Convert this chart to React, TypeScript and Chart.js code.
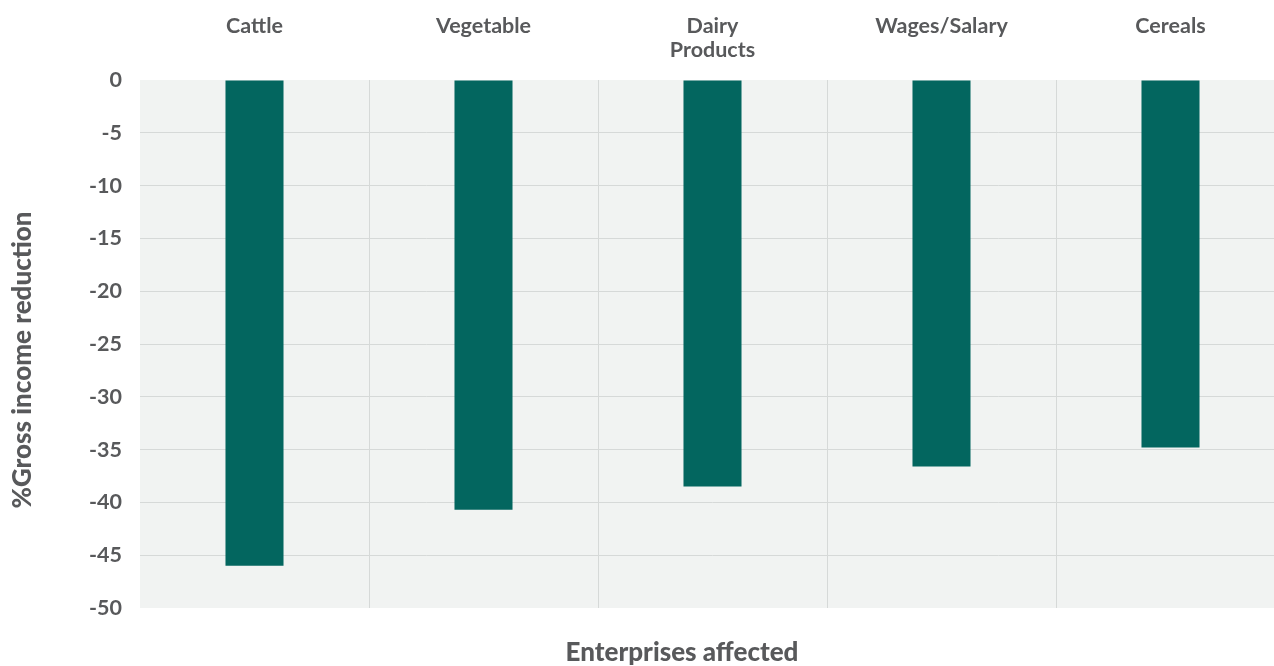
import React, { useEffect, useRef } from "react";
import { Chart, registerables } from "chart.js";

Chart.register(...registerables);

// Enterprise categories (shown along the top axis)
const categories: (string | string[])[] = [
  "Cattle",
  "Vegetable",
  ["Dairy", "Products"],
  "Wages/Salary",
  "Cereals",
];

// Percentage change in gross income per enterprise
const incomeReduction: number[] = [-46.0, -40.7, -38.5, -36.6, -34.8];

// Value axis range and step
const yMin = -50;
const yMax = 0;
const yStep = 5;

const yTitle = "%Gross income reduction";
const xTitle = "Enterprises affected";

const TEXT = "#58595b";
const BAR = "#03665f";
const PLOT_BG = "#f1f3f2";
const GRID = "#d6d9d8";
const FONT = "Lato, 'Open Sans', sans-serif";

const plotBackground = {
  id: "plotBackground",
  beforeDraw(chart: Chart) {
    const { ctx, chartArea } = chart;
    if (!chartArea) return;
    ctx.save();
    ctx.fillStyle = PLOT_BG;
    ctx.fillRect(
      chartArea.left,
      chartArea.top,
      chartArea.right - chartArea.left,
      chartArea.bottom - chartArea.top
    );
    ctx.restore();
  },
};

// Axis titles placed freely around the plot
const axisTitles = {
  id: "axisTitles",
  afterDraw(chart: Chart) {
    const { ctx, chartArea } = chart;
    if (!chartArea) return;
    ctx.save();
    ctx.fillStyle = TEXT;
    ctx.font = `900 26px ${FONT}`;
    ctx.textAlign = "center";
    ctx.textBaseline = "middle";
    // bottom title
    ctx.fillText(xTitle, 682, chartArea.bottom + 45);
    // left rotated title
    ctx.translate(23, chartArea.top + 280);
    ctx.rotate(-Math.PI / 2);
    ctx.fillText(yTitle, 0, 0);
    ctx.restore();
  },
};

export default function App() {
  const canvasRef = useRef<HTMLCanvasElement | null>(null);

  useEffect(() => {
    if (!canvasRef.current) return;
    const chart = new Chart(canvasRef.current, {
      type: "bar",
      data: {
        labels: categories,
        datasets: [
          {
            data: incomeReduction,
            backgroundColor: BAR,
            borderWidth: 0,
            categoryPercentage: 1,
            barPercentage: 0.2534,
          },
        ],
      },
      options: {
        responsive: false,
        animation: false,
        layout: { padding: { left: 0, top: 0, right: 0, bottom: 58 } },
        plugins: {
          legend: { display: false },
          tooltip: { enabled: false },
          title: { display: false },
        },
        scales: {
          x: {
            position: "top",
            offset: true,
            border: { display: false },
            grid: {
              offset: true,
              drawTicks: false,
              color: (ctx: any) => (ctx.index === 0 ? "rgba(0,0,0,0)" : GRID),
              lineWidth: 1,
            },
            ticks: {
              color: TEXT,
              padding: 18,
              crossAlign: "far",
              maxRotation: 0,
              autoSkip: false,
              font: { family: FONT, size: 21.5, weight: "bold", lineHeight: 1.116 },
            },
            afterFit(scale: any) {
              scale.height = 80;
            },
          },
          y: {
            min: yMin,
            max: yMax,
            border: { display: false },
            grid: {
              drawTicks: false,
              color: (ctx: any) => {
                const v = ctx.tick ? ctx.tick.value : null;
                return v === yMin || v === yMax ? "rgba(0,0,0,0)" : GRID;
              },
              lineWidth: 1,
            },
            ticks: {
              stepSize: yStep,
              color: TEXT,
              padding: 18,
              font: { family: FONT, size: 21.5, weight: "bold" },
            },
            afterFit(scale: any) {
              scale.width = 140;
            },
          },
        },
      },
      plugins: [plotBackground, axisTitles],
    });
    return () => chart.destroy();
  }, []);

  return (
    <div
      style={{
        position: "fixed",
        left: 0,
        top: 0,
        width: 1274,
        height: 666,
        overflow: "hidden",
        background: "#ffffff",
      }}
    >
      <canvas
        ref={canvasRef}
        width={1285}
        height={666}
        style={{ display: "block", width: 1285, height: 666 }}
      />
    </div>
  );
}
